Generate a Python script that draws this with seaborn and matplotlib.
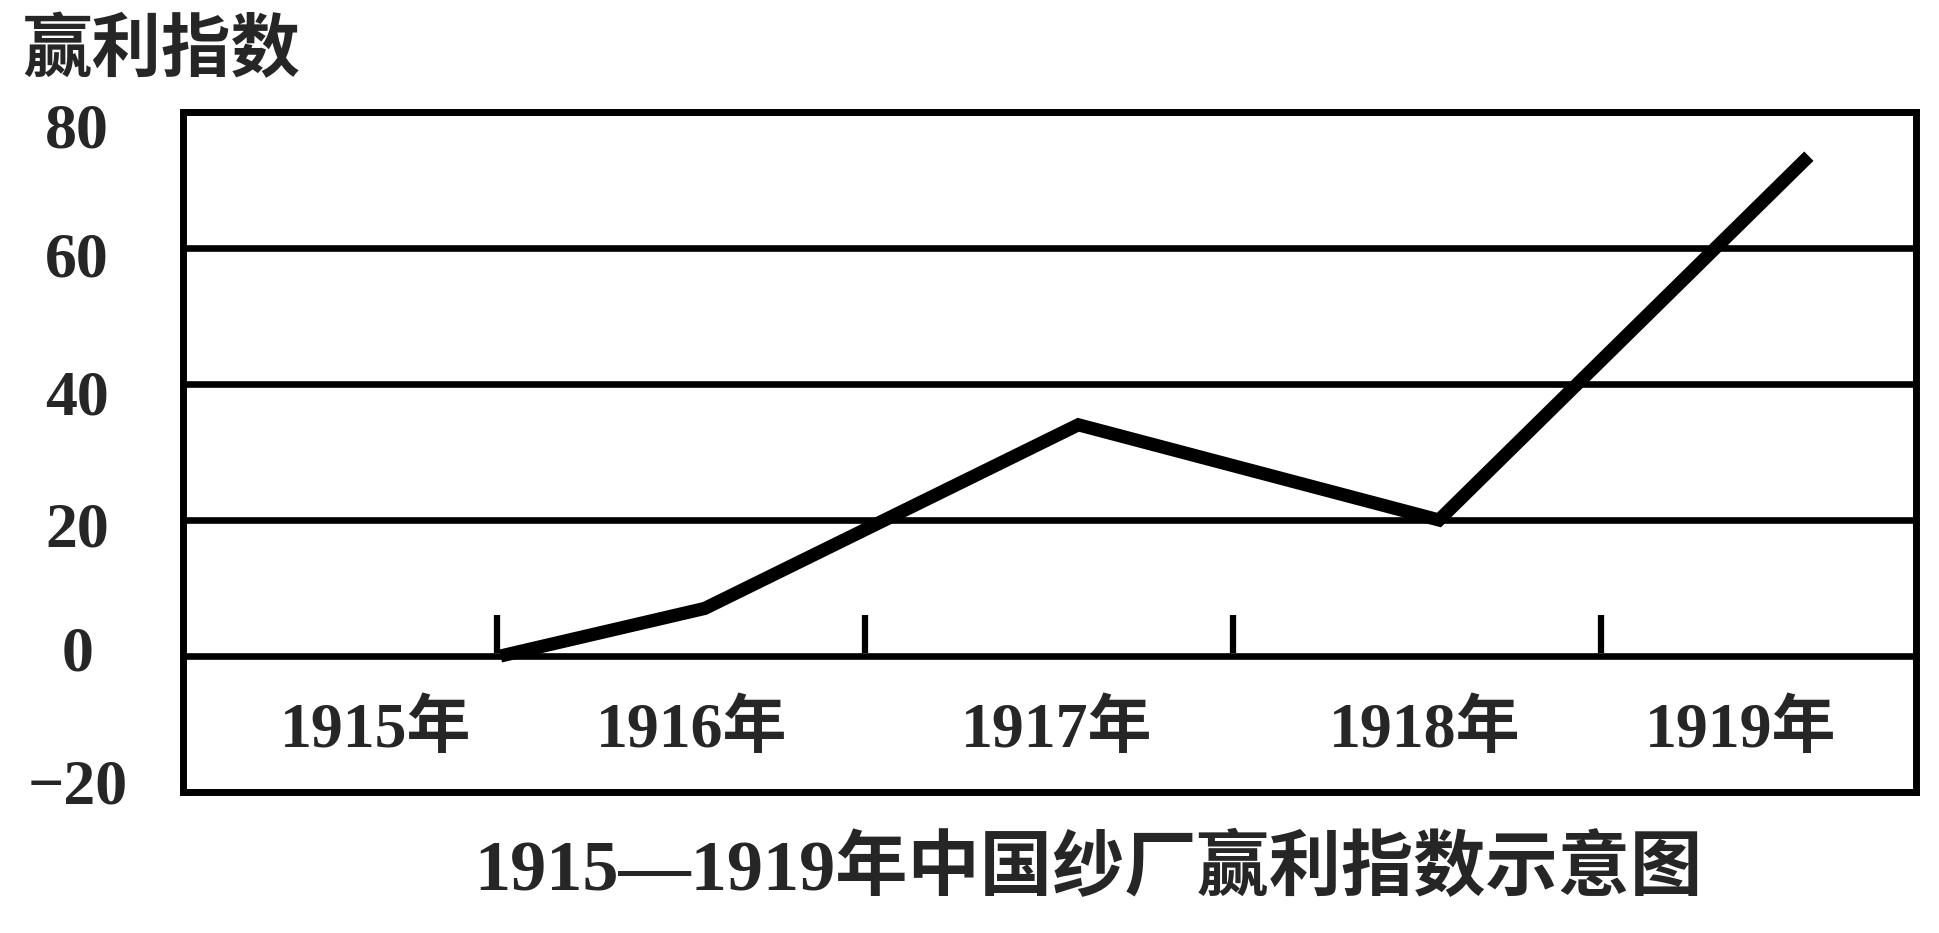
import numpy as np
import pandas as pd
import matplotlib
matplotlib.use('Agg')
import matplotlib.pyplot as plt
import seaborn as sns

# data
years = ['1915年', '1916年', '1917年', '1918年', '1919年']
x_pos = [1915.51, 1916.065, 1917.08, 1918.06, 1919.065]
profit = [0, 7, 34, 20, 73.5]

# label centres / separators along the zero line
label_x = [1915.17, 1916.03, 1917.02, 1918.02, 1918.88]
sep_x = [1915.5, 1916.5, 1917.5, 1918.5]
y_ticks = [-20, 0, 20, 40, 60, 80]
y_labels = ['−20', '0', '20', '40', '60', '80']
y_label_pos = [-18.5, 1.1, 19.3, 38.7, 59.1, 78]

sns.set_theme(style='white')
plt.rcParams['font.family'] = ['Liberation Serif', 'Noto Sans CJK SC']
plt.rcParams['font.weight'] = 'bold'

fig = plt.figure(figsize=(19.4, 9.33), dpi=100)
ax = fig.add_axes([0.0943, 0.1511, 0.8933, 0.7289])

df = pd.DataFrame({'x': x_pos, 'y': profit})
sns.lineplot(data=df, x='x', y='y', ax=ax, color='black', linewidth=9.5,
             solid_capstyle='butt', solid_joinstyle='miter', zorder=5)

ax.set_xlim(1914.647, 1919.356)
ax.set_ylim(-20, 80)

# horizontal grid
ax.set_yticks(y_ticks)
ax.set_yticklabels([])
ax.tick_params(axis='y', length=0)
ax.yaxis.grid(True, color='black', linewidth=4.8)
ax.set_xticks([])
ax.set_xlabel('')
ax.set_ylabel('')

for s in ax.spines.values():
    s.set_visible(True)
    s.set_color('black')
    s.set_linewidth(5)

# y labels, centred left of the box
for yy, lab in zip(y_label_pos, y_labels):
    ax.text(-0.061, yy, lab, transform=ax.get_yaxis_transform(),
            ha='center', va='center_baseline', fontsize=46, fontweight='bold')

# small separators above the zero line
ax.vlines(sep_x, 0.5, 6, color='black', linewidth=4.5, zorder=4)

for xx, lab in zip(label_x, years):
    ax.text(xx, -11, lab, ha='center', va='center', fontsize=46,
            fontweight='bold')

fig.text(0.0113, 0.943, '赢利指数', ha='left', va='center', fontsize=50,
         fontweight='bold')
fig.text(0.561, 0.0675, '1915—1919年中国纱厂赢利指数示意图', ha='center',
         va='center', fontsize=52, fontweight='bold')

fig.savefig('out.png', dpi=100)
